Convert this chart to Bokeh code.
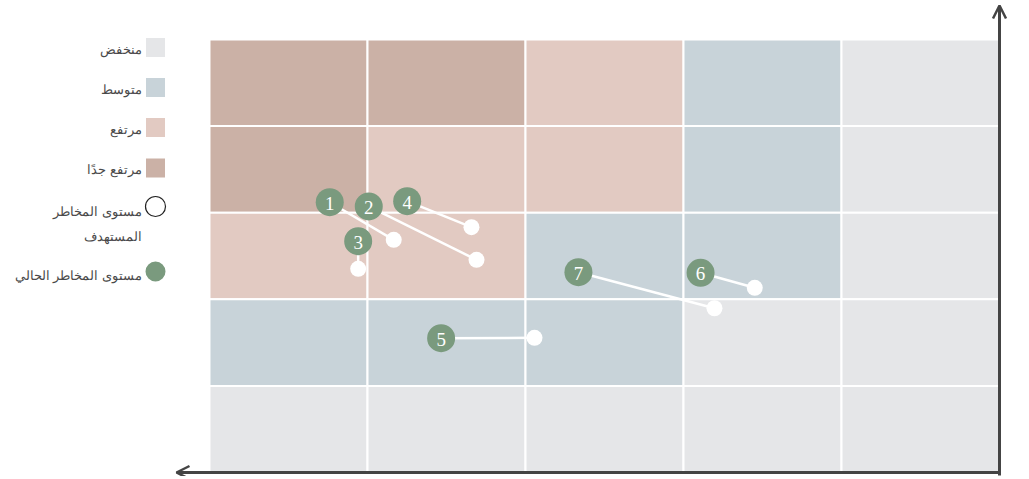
from bokeh.plotting import figure
from bokeh.models import Range1d, Arrow, OpenHead
from bokeh.core.properties import value
from bokeh.embed import file_html
from bokeh.resources import INLINE

# ---------------- data ----------------
level_names = ["منخفض", "متوسط", "مرتفع", "مرتفع جدًا"]
level_colors = ["#e5e6e8", "#c8d3d9", "#e2cac2", "#cbb1a6"]

# risk level of each cell, rows listed from top (5) to bottom (1), columns left to right
grid_levels = [
    [3, 3, 2, 1, 0],
    [3, 2, 2, 1, 0],
    [2, 2, 1, 1, 0],
    [1, 1, 1, 0, 0],
    [0, 0, 0, 0, 0],
]

risk_ids = ["1", "2", "3", "4", "5", "6", "7"]
current_x = [0.761, 1.008, 0.941, 1.251, 1.466, 3.108, 2.335]
current_y = [3.121, 3.072, 2.671, 3.133, 1.551, 2.306, 2.313]
target_x = [1.166, 1.690, 0.941, 1.658, 2.057, 3.451, 3.196]
target_y = [2.687, 2.456, 2.352, 2.833, 1.555, 2.133, 1.897]

legend_target = ["مستوى المخاطر", "المستهدف"]
legend_current = "مستوى المخاطر الحالي"

# ---------------- layout ----------------
W, H = 1021, 476
OX, OY = 0, 0            # page px of canvas origin
GX0, GX1 = 209, 999      # page px of grid left / right
GY0, GY1 = 472, 39       # page px of grid bottom / top
ux = (GX1 - GX0) / 5.0
uy = (GY0 - GY1) / 5.0
xr = Range1d(-(GX0 - OX) / ux, 5 + (OX + W - GX1) / ux)
yr = Range1d(-(OY + H - GY0) / uy, 5 + (GY1 - OY) / uy)


def X(px):
    return (px - GX0) / ux


def Y(py):
    return (GY0 - py) / uy


p = figure(width=W, height=H, x_range=xr, y_range=yr, output_backend="svg",
           toolbar_location=None, min_border=0)
p.axis.visible = False
p.grid.visible = False
p.outline_line_color = None
p.background_fill_color = "white"
p.border_fill_color = "white"

# cells
cx, cy, cc = [], [], []
for r, row in enumerate(grid_levels):
    for c, lv in enumerate(row):
        cx.append(c + 0.5)
        cy.append(4 - r + 0.5)
        cc.append(level_colors[lv])
p.rect(x=cx, y=cy, width=1, height=1, fill_color=cc, line_color="white", line_width=2)

# axes arrows
axis_col = "#444444"
p.add_layout(Arrow(end=OpenHead(size=13, line_color=axis_col, line_width=2.5),
                   x_start=5, y_start=Y(475), x_end=5, y_end=Y(5),
                   line_color=axis_col, line_width=3))
p.add_layout(Arrow(end=OpenHead(size=13, line_color=axis_col, line_width=2.5),
                   x_start=X(1000.5), y_start=0, x_end=X(176), y_end=0,
                   line_color=axis_col, line_width=3))

# connectors and points
p.segment(x0=current_x, y0=current_y, x1=target_x, y1=target_y,
          line_color="white", line_width=2.5)
p.scatter(x=target_x, y=target_y, size=16, fill_color="white", line_color=None)
p.scatter(x=current_x, y=current_y, size=28, fill_color="#7a9a7e", line_color=None)
p.text(x=current_x, y=current_y, text=risk_ids, text_align="center",
       text_baseline="middle", text_color="white", text_font_size="19px",
       text_font=value("Liberation Serif"), y_offset=1)

# legend
lx = X(155)
sq_y = [Y(47), Y(87), Y(127), Y(167.5)]
p.scatter(x=[lx] * 4, y=sq_y, marker="square", size=19, fill_color=level_colors,
          line_color=None)
p.scatter(x=[lx], y=[Y(206)], size=20, fill_color="white", line_color="#222222",
          line_width=1.2)
p.scatter(x=[lx], y=[Y(271)], size=20, fill_color="#7a9a7e", line_color=None)

tx = X(141)
txt_col = "#4a4a4a"
fs = "13px"
p.text(x=[tx] * 4, y=[Y(48), Y(88), Y(128), Y(168)], text=level_names,
       text_align="right", text_baseline="middle", text_color=txt_col,
       text_font_size=fs, text_font=value("Noto Sans"))
p.text(x=[tx, tx], y=[Y(210), Y(235)], text=legend_target,
       text_align="right", text_baseline="middle", text_color=txt_col,
       text_font_size=fs, text_font=value("Noto Sans"))
p.text(x=[tx], y=[Y(274)], text=[legend_current],
       text_align="right", text_baseline="middle", text_color=txt_col,
       text_font_size=fs, text_font=value("Noto Sans"))

open("out.html", "w").write(file_html(p, INLINE))
